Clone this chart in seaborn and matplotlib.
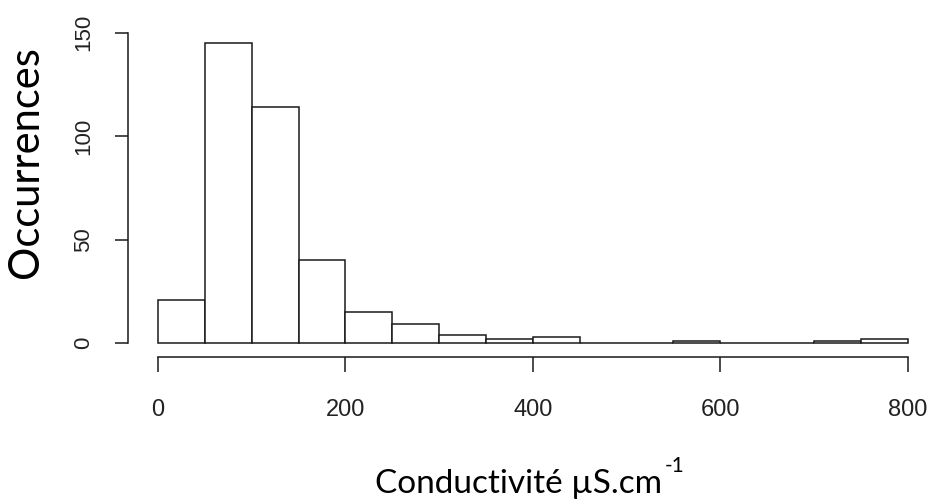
import numpy as np
import pandas as pd
import matplotlib
matplotlib.use("Agg")
import matplotlib.pyplot as plt
import seaborn as sns

# ---- data ----
bin_edges = [0, 50, 100, 150, 200, 250, 300, 350, 400, 450, 500, 550, 600, 650, 700, 750, 800]
counts = [21, 145, 114, 40, 15, 9, 4, 2, 3, 0, 0, 1, 0, 0, 1, 2]
x_ticks = [0, 200, 400, 600, 800]
y_ticks = [0, 50, 100, 150]
x_label = "Conductivité µS.cm"
x_label_sup = "-1"
y_label = "Occurrences"

sns.set_theme(style="white")
plt.rcParams["font.family"] = ["Liberation Sans", "DejaVu Sans"]

centers = [(a + b) / 2 for a, b in zip(bin_edges[:-1], bin_edges[1:])]
df = pd.DataFrame({"value": centers, "n": counts})

W, H = 930, 501
fig = plt.figure(figsize=(W / 100, H / 100), dpi=100)
left_px, spine_y_px = 127.7, 357.3
ax = fig.add_axes([left_px / W, (H - spine_y_px) / H, (W - left_px) / W, spine_y_px / H])

sns.histplot(data=df, x="value", weights="n", bins=bin_edges, ax=ax,
             color="white", edgecolor="#1a1a1a", linewidth=1.1, alpha=1.0)

ax.set_xlim(-32.3, 823.7)
ax.set_ylim(-6.92, 165.9)
ax.set_xlabel("")
ax.set_ylabel("")

for s in ["top", "right"]:
    ax.spines[s].set_visible(False)
for s in ["left", "bottom"]:
    ax.spines[s].set_color("#1a1a1a")
    ax.spines[s].set_linewidth(1.1)
ax.spines["left"].set_bounds(0, 150)
ax.spines["bottom"].set_bounds(0, 800)

ax.set_xticks(x_ticks)
ax.set_yticks(y_ticks)
ax.set_xticklabels([str(t) for t in x_ticks], fontsize=17, color="#222222")
ax.set_yticklabels([str(t) for t in y_ticks], rotation=90, va="center", fontsize=16, color="#222222")
ax.tick_params(axis="x", direction="out", length=10.8, width=1.1, color="#1a1a1a", pad=19, bottom=True)
ax.tick_params(axis="y", direction="out", length=9.1, width=1.1, color="#1a1a1a", pad=15, left=True)
ax.grid(False)

lab_font = ["Lato", "DejaVu Sans"]
fig.text(518 / W, 1 - 493 / H, x_label, ha="center", va="baseline", fontsize=24, family=lab_font, color="black")
fig.text(665 / W, 1 - 466 / H, x_label_sup, ha="left", va="center", fontsize=15, family=lab_font, color="black")
fig.text(26 / W, 1 - 162 / H, y_label, ha="center", va="center", rotation=90, fontsize=30, family=lab_font, color="black")

fig.savefig("out.png", dpi=100, facecolor="white")
